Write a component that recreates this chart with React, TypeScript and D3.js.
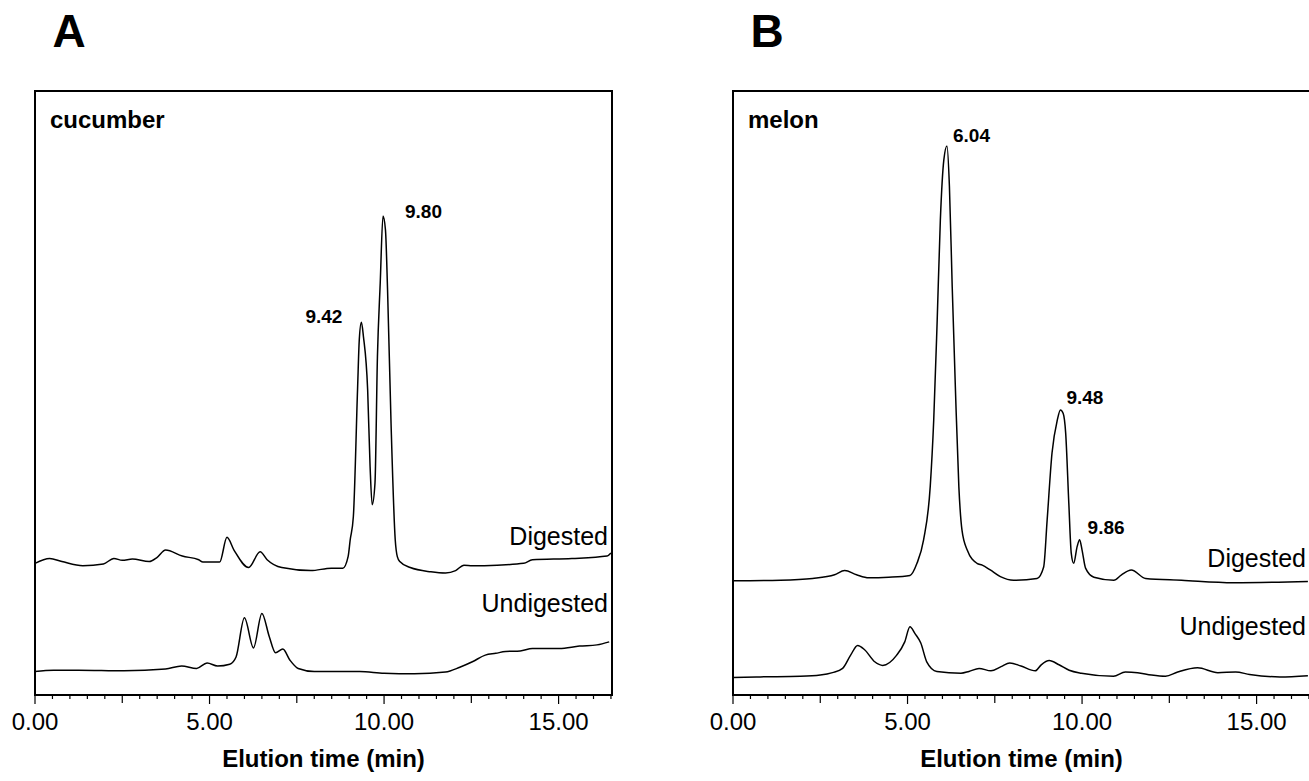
import React, { useEffect, useRef } from 'react';
import * as d3 from 'd3';

// elution time (min) / detector response (arbitrary units, traces stacked as drawn)
const cucumberDigested: [number, number][] = [
  [0.0, 21.8], [0.42, 22.6], [0.77, 22.1], [1.37, 21.4], [1.96, 21.7], [2.26, 22.6], [2.5, 22.3],
  [2.79, 22.5], [3.27, 22.1], [3.5, 22.8], [3.74, 24.0], [4.22, 23.0], [4.69, 22.4], [4.81, 22.0],
  [5.29, 22.0], [5.5, 26.1], [5.7, 24.0], [6.12, 21.1], [6.45, 23.7], [6.65, 22.4], [7.07, 21.1],
  [7.9, 20.6], [8.49, 21.0], [8.82, 21.0], [8.97, 22.9], [9.03, 25.7], [9.12, 29.5], [9.24, 50.5],
  [9.29, 58.8], [9.35, 61.7], [9.41, 59.3], [9.53, 50.5], [9.6, 37.8], [9.66, 31.5], [9.74, 35.1],
  [9.81, 56.0], [9.89, 68.2], [9.97, 79.3], [10.04, 77.0], [10.1, 67.1], [10.2, 45.0], [10.32, 25.7],
  [10.38, 22.9], [10.45, 22.1], [10.75, 21.1], [11.34, 20.4], [11.76, 20.2], [12.05, 20.6],
  [12.29, 21.5], [12.53, 21.4], [13.24, 21.5], [14.0, 21.8], [14.25, 22.4], [15.38, 22.6],
  [16.39, 23.0], [16.5, 23.5],
];

const cucumberUndigested: [number, number][] = [
  [0.0, 3.9], [0.53, 4.1], [1.25, 4.1], [2.55, 4.0], [3.74, 4.3], [4.2, 4.8], [4.63, 4.4],
  [4.93, 5.3], [5.23, 4.8], [5.58, 5.1], [5.76, 6.3], [6.0, 12.8], [6.26, 7.8], [6.5, 13.5],
  [6.71, 9.7], [6.89, 7.0], [7.1, 7.6], [7.3, 5.8], [7.54, 4.4], [8.0, 3.9], [9.3, 3.9],
  [10.0, 3.6], [10.87, 3.5], [11.76, 3.8], [12.17, 4.6], [12.53, 5.5], [12.9, 6.6], [13.2, 6.9],
  [13.48, 7.2], [13.9, 7.3], [14.25, 7.7], [15.02, 7.7], [15.6, 8.1], [16.1, 8.3], [16.45, 8.8],
];

const melonDigested: [number, number][] = [
  [0.0, 18.9], [1.36, 19.0], [2.28, 19.3], [2.91, 19.9], [3.2, 20.6], [3.54, 19.9], [3.89, 19.4],
  [4.46, 19.5], [5.07, 19.8], [5.27, 21.8], [5.46, 25.7], [5.65, 34.5], [5.75, 45.5], [5.85, 62.1],
  [5.94, 78.6], [6.04, 88.6], [6.13, 90.9], [6.2, 84.2], [6.28, 67.6], [6.37, 51.0], [6.47, 34.5],
  [6.56, 27.3], [6.71, 24.0], [6.99, 21.8], [7.14, 21.5], [7.37, 20.7], [7.66, 19.6], [8.04, 19.0],
  [8.71, 19.3], [8.9, 21.2], [9.0, 29.0], [9.14, 40.1], [9.29, 45.5], [9.38, 47.2], [9.46, 46.6],
  [9.53, 43.4], [9.62, 31.8], [9.69, 23.5], [9.76, 21.8], [9.86, 24.6], [9.93, 25.7], [10.0, 24.0],
  [10.1, 21.0], [10.34, 19.5], [10.91, 19.0], [11.13, 19.9], [11.41, 20.7], [11.82, 19.3],
  [12.85, 19.0], [14.34, 18.6], [16.47, 18.8],
];

const melonUndigested: [number, number][] = [
  [0.0, 2.9], [0.78, 3.0], [1.93, 3.1], [2.5, 3.3], [2.85, 3.7], [3.14, 4.4], [3.37, 6.6],
  [3.57, 8.2], [3.77, 7.5], [4.06, 5.5], [4.29, 4.9], [4.69, 6.6], [4.92, 8.8], [5.07, 11.3],
  [5.21, 10.2], [5.38, 8.6], [5.55, 5.5], [5.84, 3.9], [6.53, 3.6], [6.76, 3.9], [7.05, 4.4],
  [7.39, 4.0], [7.68, 4.7], [7.93, 5.3], [8.25, 4.8], [8.66, 4.0], [8.83, 5.0], [9.06, 5.7],
  [9.34, 5.0], [9.63, 4.1], [9.98, 3.6], [10.9, 3.1], [11.24, 3.8], [11.59, 3.7], [11.99, 3.3],
  [12.39, 3.1], [12.74, 3.8], [13.31, 4.5], [13.89, 3.7], [14.4, 3.8], [14.8, 3.4], [15.67, 3.0],
  [16.47, 3.2],
];

const tickValues = [0, 5, 10, 15];

const cucumberPeaks = [
  { label: '9.42', t: 9.35, v: 61.7, dx: -19, dy: 1, anchor: 'end' },
  { label: '9.80', t: 9.97, v: 79.3, dx: 22, dy: 2, anchor: 'start' },
];
const melonPeaks = [
  { label: '6.04', t: 6.13, v: 90.9, dx: 6, dy: -4, anchor: 'start' },
  { label: '9.48', t: 9.38, v: 47.2, dx: 6, dy: -6, anchor: 'start' },
  { label: '9.86', t: 9.93, v: 25.7, dx: 8, dy: -6, anchor: 'start' },
];

const panels = [
  { letter: 'A', name: 'cucumber', left: 35, digested: cucumberDigested, undigested: cucumberUndigested, peaks: cucumberPeaks, dLab: 8, uLab: 30 },
  { letter: 'B', name: 'melon', left: 733, digested: melonDigested, undigested: melonUndigested, peaks: melonPeaks, dLab: 14, uLab: 41 },
];

const App = () => {
  const ref = useRef<SVGSVGElement>(null);

  useEffect(() => {
    const svg = d3.select(ref.current);
    svg.selectAll('*').remove();

    const top = 91;
    const bottom = 695;
    const width = 577;
    const font = 'Liberation Sans, Arial, sans-serif';

    panels.forEach((p) => {
      const x = d3.scaleLinear().domain([0, 16.53]).range([p.left, p.left + width]);
      const y = d3.scaleLinear().domain([0, 100]).range([bottom, top]);
      const g = svg.append('g');

      g.append('text')
        .attr('x', p.left + 34)
        .attr('y', 47)
        .attr('text-anchor', 'middle')
        .style('font', `bold 46px ${font}`)
        .text(p.letter);

      g.append('rect')
        .attr('x', p.left)
        .attr('y', top)
        .attr('width', width)
        .attr('height', bottom - top)
        .attr('fill', 'none')
        .attr('stroke', '#000')
        .attr('stroke-width', 2);

      // ticks: long every 5, medium every 2.5, short every 0.5
      const minor = d3.range(0, 16.51, 0.5);
      g.selectAll('.tk')
        .data(minor)
        .enter().append('line')
        .attr('x1', d => x(d))
        .attr('x2', d => x(d))
        .attr('y1', bottom)
        .attr('y2', d => bottom + (d % 5 === 0 ? 9 : d % 2.5 === 0 ? 8 : 4))
        .attr('stroke', '#000')
        .attr('stroke-width', 1.2);

      g.selectAll('.tl')
        .data(tickValues)
        .enter().append('text')
        .attr('x', d => x(d))
        .attr('y', 730)
        .attr('text-anchor', 'middle')
        .style('font', `24px ${font}`)
        .text(d => d3.format('.2f')(d));

      g.append('text')
        .attr('x', p.left + width / 2)
        .attr('y', 767)
        .attr('text-anchor', 'middle')
        .style('font', `bold 24px ${font}`)
        .text('Elution time (min)');

      g.append('text')
        .attr('x', p.left + 15)
        .attr('y', 128)
        .style('font', `bold 24px ${font}`)
        .text(p.name);

      const line = d3.line<[number, number]>()
        .x(d => x(d[0]))
        .y(d => y(d[1]))
        .curve(d3.curveMonotoneX);

      [p.digested, p.undigested].forEach((s) => {
        g.append('path')
          .attr('d', line(s))
          .attr('fill', 'none')
          .attr('stroke', '#000')
          .attr('stroke-width', 1.5);
      });

      const lastD = p.digested[p.digested.length - 1];
      const lastU = p.undigested[p.undigested.length - 1];
      g.append('text')
        .attr('x', p.left + width - 4)
        .attr('y', y(lastD[1]) - p.dLab)
        .attr('text-anchor', 'end')
        .style('font', `25px ${font}`)
        .text('Digested');
      g.append('text')
        .attr('x', p.left + width - 4)
        .attr('y', y(lastU[1]) - p.uLab)
        .attr('text-anchor', 'end')
        .style('font', `25px ${font}`)
        .text('Undigested');

      g.selectAll('.pk')
        .data(p.peaks)
        .enter().append('text')
        .attr('x', d => x(d.t) + d.dx)
        .attr('y', d => y(d.v) + d.dy)
        .attr('text-anchor', d => d.anchor)
        .style('font', `bold 19px ${font}`)
        .text(d => d.label);
    });
  }, []);

  return (
    <div style={{ position: 'fixed', left: 0, top: 0, background: '#fff' }}>
      <svg ref={ref} width={1309} height={781} />
    </div>
  );
};

export default App;
